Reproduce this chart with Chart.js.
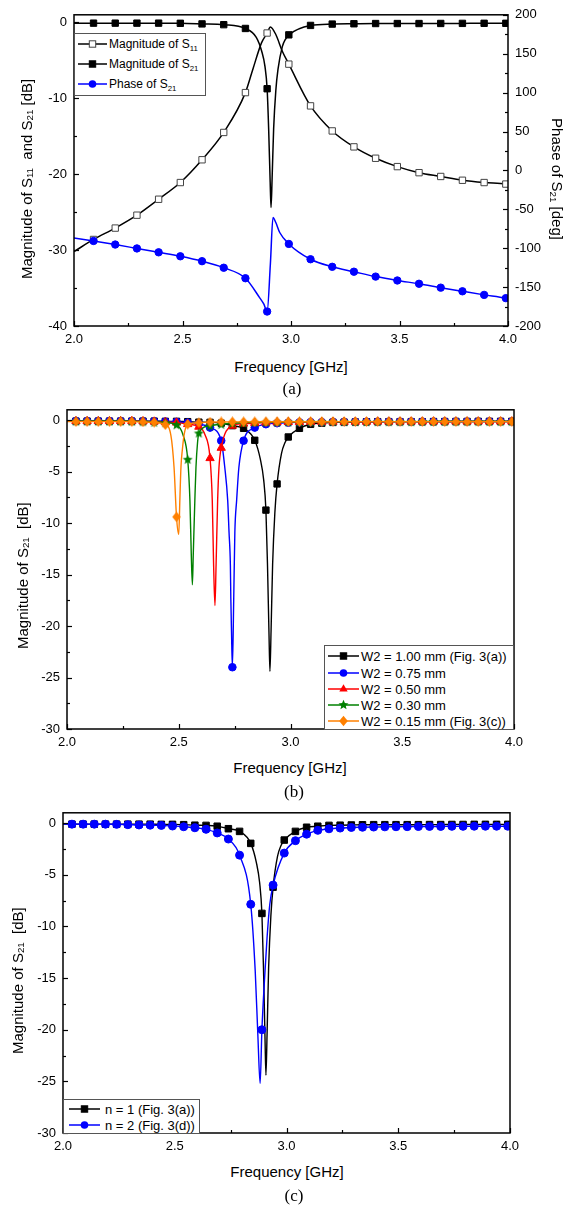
<!DOCTYPE html>
<html>
<head>
<meta charset="utf-8">
<title>S-parameter responses</title>
<script src="https://cdn.jsdelivr.net/npm/chart.js@4.4.1/dist/chart.umd.min.js"></script>
<style>
body { margin: 0; background: #fff; }
#page { position: relative; width: 579px; height: 1205px; overflow: hidden; font-family: "Liberation Sans", Arial, sans-serif; color: #000; }
#page canvas { position: absolute; left: 0; }
.lbl { position: absolute; white-space: nowrap; line-height: 1; transform: translate(-50%, -50%); }
.ttl { font-size: 15px; }
.vert { writing-mode: vertical-rl; }
.vtitle { position: absolute; width: 20px; height: 300px; display: flex; align-items: center; justify-content: center;
          writing-mode: vertical-rl; transform: rotate(180deg); white-space: nowrap; line-height: 1; font-size: 15px; }
.cap { font-family: "Liberation Serif", "Times New Roman", serif; font-size: 17px; }
sub { font-size: 0.65em; vertical-align: -0.4em; line-height: 0; }
.legend { position: absolute; box-sizing: border-box; background: #fff; border: 1px solid #555; }
.legend svg { position: absolute; overflow: visible; }
.legend span { position: absolute; white-space: nowrap; line-height: 1; transform: translateY(-50%); }
</style>
</head>
<body>
<div id="page">
  <canvas id="chartA" width="579" height="350" style="top:0px"></canvas>
  <canvas id="chartB" width="579" height="355" style="top:395px"></canvas>
  <canvas id="chartC" width="579" height="355" style="top:798px"></canvas>

  <div class="vtitle" style="left:16px;top:29px"><span>Magnitude of S<sub>11</sub>&nbsp; and S<sub>21</sub> [dB]</span></div>
  <div class="lbl ttl vert" style="left:557px;top:179px">Phase of S<sub>21</sub> [deg]</div>
  <div class="lbl ttl" style="left:291px;top:366px">Frequency [GHz]</div>
  <div class="lbl cap" style="left:292px;top:388px">(a)</div>

  <div class="vtitle" style="left:12px;top:426px"><span>Magnitude of S<sub>21</sub>&nbsp; [dB]</span></div>
  <div class="lbl ttl" style="left:290px;top:767px">Frequency [GHz]</div>
  <div class="lbl cap" style="left:294px;top:791px">(b)</div>

  <div class="vtitle" style="left:7px;top:831px"><span>Magnitude of S<sub>21</sub>&nbsp; [dB]</span></div>
  <div class="lbl ttl" style="left:287px;top:1171px">Frequency [GHz]</div>
  <div class="lbl cap" style="left:294px;top:1195px">(c)</div>
</div>
<script>
// ---------- (a) marker points, every 0.1 GHz ----------
const freqA = [2.09, 2.19, 2.29, 2.39, 2.49, 2.59, 2.69, 2.79, 2.89, 2.99,
               3.09, 3.19, 3.29, 3.39, 3.49, 3.59, 3.69, 3.79, 3.89, 3.99];
const s11A = [-28.6, -27.1, -25.4, -23.3, -21.1, -18.1, -14.5, -9.25, -1.4, -5.5,
              -11.0, -14.3, -16.4, -17.9, -19.0, -19.8, -20.3, -20.8, -21.1, -21.3];
const s21A = [-0.1, -0.1, -0.1, -0.1, -0.12, -0.2, -0.3, -0.8, -8.74, -1.64,
              -0.4, -0.22, -0.18, -0.15, -0.15, -0.15, -0.14, -0.13, -0.12, -0.12];
const phaseA = [-90.7, -95.3, -100.3, -105.3, -110.4, -116.7, -125.1, -138.6, -181.4, -94.5,
                -114.2, -123.9, -130.2, -136.5, -141.5, -145.7, -150.7, -155.4, -160.0, -164.2];
// extra points of the drawn curves (no marker)
const s11LineF = [2.0, 2.825, 2.864, 2.905, 2.93, 2.96, 4.0];
const s11LineV = [-30.2, -6.1, -2.7, -0.6, -1.6, -3.8, -21.35];
const s21LineF = [2.0, 2.84, 2.865, 2.88, 2.897, 2.904, 2.908, 2.913, 2.92, 2.93, 2.94, 2.96, 2.975, 4.0];
const s21LineV = [-0.1, -1.96, -3.8, -5.8, -14.0, -21.0, -24.4, -20.5, -14.0, -9.0, -6.2, -3.2, -2.2, -0.12];
const phaseLineF = [2.0, 2.856, 2.875, 2.905, 2.917, 2.93, 2.948, 4.0];
const phaseLineV = [-86.9, -163.8, -172, -120, -60.5, -67, -79.8, -165];

// ---------- (b) and (c) marker points, every 0.05 GHz ----------
const freqB = [2.04, 2.09, 2.14, 2.19, 2.24, 2.29, 2.34, 2.39, 2.44, 2.49,
               2.54, 2.59, 2.64, 2.69, 2.74, 2.79, 2.84, 2.89, 2.94, 2.99,
               3.04, 3.09, 3.14, 3.19, 3.24, 3.29, 3.34, 3.39, 3.44, 3.49,
               3.54, 3.59, 3.64, 3.69, 3.74, 3.79, 3.84, 3.89, 3.94, 3.99];
const w100 = [-0.1, -0.1, -0.1, -0.1, -0.1, -0.1, -0.1, -0.1, -0.12, -0.12,
              -0.15, -0.2, -0.22, -0.3, -0.54, -0.8, -1.96, -8.74, -6.2, -1.64,
              -0.8, -0.4, -0.3, -0.22, -0.2, -0.18, -0.16, -0.15, -0.15, -0.15,
              -0.15, -0.15, -0.14, -0.14, -0.13, -0.13, -0.12, -0.12, -0.12, -0.12];
const w075 = [-0.1, -0.1, -0.1, -0.1, -0.1, -0.1, -0.12, -0.12, -0.15, -0.18,
              -0.25, -0.35, -0.73, -2.0, -24.0, -2.0, -0.73, -0.4, -0.3, -0.25,
              -0.22, -0.2, -0.2, -0.18, -0.18, -0.17, -0.16, -0.16, -0.15, -0.15,
              -0.15, -0.15, -0.15, -0.14, -0.14, -0.14, -0.14, -0.14, -0.14, -0.14];
const w050 = [-0.1, -0.1, -0.1, -0.1, -0.1, -0.1, -0.12, -0.15, -0.2, -0.25,
              -0.4, -0.65, -3.7, -2.7, -0.55, -0.35, -0.28, -0.25, -0.22, -0.2,
              -0.2, -0.18, -0.18, -0.17, -0.17, -0.16, -0.16, -0.15, -0.15, -0.15,
              -0.15, -0.15, -0.14, -0.14, -0.14, -0.14, -0.14, -0.14, -0.14, -0.14];
const w030 = [-0.1, -0.1, -0.1, -0.1, -0.1, -0.12, -0.15, -0.2, -0.25, -0.45,
              -3.8, -1.25, -0.55, -0.4, -0.3, -0.25, -0.22, -0.2, -0.2, -0.18,
              -0.17, -0.17, -0.16, -0.16, -0.16, -0.15, -0.15, -0.15, -0.15, -0.15,
              -0.15, -0.14, -0.14, -0.14, -0.14, -0.14, -0.14, -0.14, -0.14, -0.14];
const w015 = [-0.15, -0.15, -0.15, -0.15, -0.15, -0.15, -0.18, -0.22, -0.45, -9.4,
              -0.4, -0.25, -0.2, -0.18, -0.17, -0.17, -0.17, -0.16, -0.16, -0.16,
              -0.16, -0.16, -0.16, -0.15, -0.15, -0.15, -0.15, -0.15, -0.15, -0.15,
              -0.15, -0.15, -0.15, -0.15, -0.15, -0.15, -0.15, -0.15, -0.15, -0.15];
const nTwo = [-0.1, -0.1, -0.1, -0.1, -0.12, -0.15, -0.18, -0.2, -0.22, -0.28,
              -0.35, -0.45, -0.6, -0.95, -1.54, -3.1, -7.86, -20.0, -6.0, -2.9,
              -1.7, -1.07, -0.7, -0.55, -0.48, -0.42, -0.4, -0.38, -0.36, -0.35,
              -0.34, -0.33, -0.32, -0.32, -0.31, -0.31, -0.3, -0.3, -0.3, -0.3];
// extra points of the drawn curves around each notch
const w100LineF = [2.0, 2.865, 2.88, 2.897, 2.904, 2.908, 2.913, 2.92, 2.93, 2.96, 2.975, 4.0];
const w100LineV = [-0.1, -3.8, -5.8, -14.0, -21.0, -24.4, -20.5, -14.0, -9.0, -3.2, -2.2, -0.12];
const w075LineF = [2.0, 2.706, 2.719, 2.725, 2.731, 2.733, 2.736, 2.746, 2.751, 2.759, 2.769, 4.0];
const w075LineV = [-0.1, -4.6, -7.8, -10.9, -14.1, -17.3, -20.5, -17.3, -10.9, -7.8, -4.6, -0.14];
const w050LineF = [2.0, 2.617, 2.65, 2.656, 2.662, 2.667, 2.674, 2.68, 4.0];
const w050LineV = [-0.1, -1.4, -7.8, -14.1, -18.0, -14.1, -7.8, -4.6, -0.14];
const w030LineF = [2.0, 2.52, 2.55, 2.556, 2.561, 2.565, 2.572, 2.577, 2.584, 4.0];
const w030LineV = [-0.1, -1.5, -7.8, -13.0, -16.0, -13.0, -7.8, -4.6, -2.2, -0.14];
const w015LineF = [2.0, 2.465, 2.479, 2.50, 2.505, 2.51, 2.516, 2.525, 4.0];
const w015LineV = [-0.15, -1.5, -4.6, -11.1, -7.7, -4.5, -2.9, -1.3, -0.15];
const nTwoLineF = [2.0, 2.86, 2.872, 2.882, 2.904, 2.913, 2.925, 4.0];
const nTwoLineV = [-0.1, -14.3, -20.6, -25.2, -14.3, -11.1, -7.9, -0.3];

// ---------- ticks and legend texts ----------
const freqTicks = [2.0, 2.5, 3.0, 3.5, 4.0];
const magTicksA = [-40, -30, -20, -10, 0];
const phaseTicks = [-200, -150, -100, -50, 0, 50, 100, 150, 200];
const magTicksBC = [-30, -25, -20, -15, -10, -5, 0];
const legendA = ['Magnitude of S<sub>11</sub>', 'Magnitude of S<sub>21</sub>', 'Phase of S<sub>21</sub>'];
const legendB = ['W2 = 1.00 mm (Fig. 3(a))', 'W2 = 0.75 mm', 'W2 = 0.50 mm', 'W2 = 0.30 mm', 'W2 = 0.15 mm (Fig. 3(c))'];
const legendC = ['n = 1 (Fig. 3(a))', 'n = 2 (Fig. 3(d))'];

const BLUE = '#0000ff', RED = '#ff0000', GREEN = '#008000', ORANGE = '#ff8000', BLACK = '#000000';

// merge marker points and curve points, sorted by frequency
function pts(fm, vm, fl, vl) {
    const out = fm.map((f, i) => ({x: f, y: vm[i], m: true}));
    fl.forEach((f, i) => out.push({x: f, y: vl[i], m: false}));
    return out.sort((a, b) => a.x - b.x);
}

// star and diamond markers drawn as small images
function starPath(cx, cy, R) {
    const p = [];
    for (let i = 0; i < 10; i++) {
        const r = i % 2 ? R * 0.45 : R;
        const a = -Math.PI / 2 + i * Math.PI / 5;
        p.push([cx + r * Math.cos(a), cy + r * Math.sin(a)]);
    }
    return p;
}
function diamondPath(cx, cy, hw, hh) {
    return [[cx, cy - hh], [cx + hw, cy], [cx, cy + hh], [cx - hw, cy]];
}
function shapeCanvas(path, w, h, color) {
    const c = document.createElement('canvas');
    c.width = w; c.height = h;
    const g = c.getContext('2d');
    g.fillStyle = color;
    g.beginPath();
    path.forEach((q, i) => i ? g.lineTo(q[0], q[1]) : g.moveTo(q[0], q[1]));
    g.closePath();
    g.fill();
    return c;
}
const starImg = shapeCanvas(starPath(5.5, 6, 5.2), 11, 11, GREEN);
const diamondImg = shapeCanvas(diamondPath(4.5, 5.5, 4.3, 5.3), 9, 11, ORANGE);

function ds(data, color, style, radius, fill, stroke, order, width, axis) {
    return {
        data: data,
        borderColor: color,
        borderWidth: width,
        cubicInterpolationMode: 'monotone',
        pointStyle: style,
        pointRadius: c => (c.raw && c.raw.m ? radius : 0),
        pointHoverRadius: 0,
        pointBackgroundColor: fill,
        pointBorderColor: stroke,
        pointBorderWidth: 1,
        order: order,
        yAxisID: axis || 'y'
    };
}

const tickFont = {family: 'Liberation Sans', size: 13};
function fixedTicks(list) {
    return s => { s.ticks = list.map(v => ({value: v})); };
}
function xScale(h) {
    return {
        type: 'linear', min: 2, max: 4,
        grid: {display: false, drawTicks: false}, border: {display: false},
        afterBuildTicks: fixedTicks(freqTicks),
        afterFit: s => { s.height = h; },
        ticks: {padding: 6, color: '#000', font: tickFont, maxRotation: 0, autoSkip: false,
                callback: v => v.toFixed(1)}
    };
}
function yScale(pos, min, max, list, w) {
    return {
        type: 'linear', position: pos, min: min, max: max,
        grid: {display: false, drawTicks: false}, border: {display: false},
        afterBuildTicks: fixedTicks(list),
        afterFit: s => { s.width = w; },
        ticks: {padding: 7, color: '#000', font: tickFont, autoSkip: false}
    };
}
function opts(padding, scales) {
    return {
        responsive: false, animation: false, events: [],
        layout: {padding: padding},
        scales: scales,
        plugins: {legend: {display: false}, tooltip: {enabled: false}}
    };
}

// box frame + inward major/minor ticks
const frameTicks = {
    id: 'frameTicks',
    afterDraw(chart) {
        const {ctx, chartArea: a} = chart;
        ctx.save();
        ctx.strokeStyle = '#000';
        ctx.lineWidth = 1.2;
        Object.values(chart.scales).forEach(s => {
            const vals = s.ticks.map(t => t.value);
            const marks = [];
            vals.forEach((v, i) => {
                marks.push([v, 5]);
                if (i < vals.length - 1) marks.push([(v + vals[i + 1]) / 2, 3]);
            });
            marks.forEach(([v, len]) => {
                const p = Math.round(s.getPixelForValue(v)) + 0.5;
                ctx.beginPath();
                if (s.isHorizontal()) { ctx.moveTo(p, a.bottom); ctx.lineTo(p, a.bottom - len); }
                else if (s.position === 'left') { ctx.moveTo(a.left, p); ctx.lineTo(a.left + len, p); }
                else { ctx.moveTo(a.right, p); ctx.lineTo(a.right - len, p); }
                ctx.stroke();
            });
        });
        ctx.lineWidth = 1.5;
        ctx.strokeRect(a.left, a.top, a.right - a.left, a.bottom - a.top);
        ctx.restore();
    }
};

// ---------- (a) ----------
new Chart(document.getElementById('chartA'), {
    type: 'line',
    data: {datasets: [
        ds(pts(freqA, phaseA, phaseLineF, phaseLineV), BLUE, 'circle', 3.7, BLUE, BLUE, 0, 1.5, 'y1'),
        ds(pts(freqA, s21A, s21LineF, s21LineV), BLACK, 'rect', 4.5, BLACK, BLACK, 1, 1.5),
        ds(pts(freqA, s11A, s11LineF, s11LineV), BLACK, 'rect', 4.5, '#ffffff', '#444444', 2, 1.5)
    ]},
    options: opts({top: 8, left: 0, right: 0, bottom: 0}, {
        x: xScale(24),
        y: yScale('left', -40, 1, magTicksA, 74),
        y1: yScale('right', -200, 200, phaseTicks, 71)
    }),
    plugins: [frameTicks]
});

// ---------- (b) ----------
new Chart(document.getElementById('chartB'), {
    type: 'line',
    data: {datasets: [
        ds(pts(freqB, w100, w100LineF, w100LineV), BLACK, 'rect', 4.5, BLACK, BLACK, 4, 1.4),
        ds(pts(freqB, w075, w075LineF, w075LineV), BLUE, 'circle', 3.8, BLUE, BLUE, 3, 1.4),
        ds(pts(freqB, w050, w050LineF, w050LineV), RED, 'triangle', 4.8, RED, RED, 2, 1.4),
        ds(pts(freqB, w030, w030LineF, w030LineV), GREEN, starImg, 4, GREEN, GREEN, 1, 1.4),
        ds(pts(freqB, w015, w015LineF, w015LineV), ORANGE, diamondImg, 4, ORANGE, ORANGE, 0, 1.4)
    ]},
    options: opts({top: 8, left: 0, right: 65, bottom: 0}, {
        x: xScale(21),
        y: yScale('left', -30, 1, magTicksBC, 67)
    }),
    plugins: [frameTicks]
});

// ---------- (c) ----------
new Chart(document.getElementById('chartC'), {
    type: 'line',
    data: {datasets: [
        ds(pts(freqB, w100, w100LineF, w100LineV), BLACK, 'rect', 4.6, BLACK, BLACK, 1, 1.4),
        ds(pts(freqB, nTwo, nTwoLineF, nTwoLineV), BLUE, 'circle', 4.0, BLUE, BLUE, 0, 1.4)
    ]},
    options: opts({top: 8, left: 0, right: 69, bottom: 0}, {
        x: xScale(20),
        y: yScale('left', -30, 1, magTicksBC, 63)
    }),
    plugins: [frameTicks]
});

// ---------- legends (HTML text, svg symbols) ----------
function markerSvg(shape, cx, cy, fill, stroke) {
    const poly = p => '<polygon points="' + p.map(q => q[0].toFixed(2) + ',' + q[1].toFixed(2)).join(' ') + '" fill="' + fill + '"/>';
    switch (shape) {
        case 'rect': return '<rect x="' + (cx - 3.2) + '" y="' + (cy - 3.2) + '" width="6.4" height="6.4" fill="' + fill + '" stroke="' + stroke + '" stroke-width="1"/>';
        case 'circle': return '<circle cx="' + cx + '" cy="' + cy + '" r="3.8" fill="' + fill + '"/>';
        case 'triangle': return poly([[cx, cy - 4.8], [cx + 4.2, cy + 2.4], [cx - 4.2, cy + 2.4]]);
        case 'star': return poly(starPath(cx, cy, 5.2));
        case 'diamond': return poly(diamondPath(cx, cy, 4.3, 5.3));
    }
    return '';
}
function addLegend(box, rows, texts, fs) {
    const el = document.createElement('div');
    el.className = 'legend';
    el.style.left = box.x + 'px'; el.style.top = box.y + 'px';
    el.style.width = box.w + 'px'; el.style.height = box.h + 'px';
    rows.forEach((r, i) => {
        const w = r.x1 - r.x0;
        el.insertAdjacentHTML('beforeend',
            '<svg width="' + w + '" height="12" style="left:' + (r.x0 - box.x - 1) + 'px;top:' + (r.y - box.y - 7) + 'px">' +
            '<line x1="0" y1="6" x2="' + w + '" y2="6" stroke="' + r.color + '" stroke-width="1.5"/>' +
            markerSvg(r.shape, w / 2, 6, r.fill, r.stroke) + '</svg>' +
            '<span style="left:' + (r.tx - box.x - 1) + 'px;top:' + (r.y - box.y - 1) + 'px;font-size:' + fs + 'px">' + texts[i] + '</span>');
    });
    document.getElementById('page').appendChild(el);
}

addLegend({x: 74, y: 33, w: 132, h: 63}, [
    {y: 43.5, x0: 78, x1: 107, tx: 109, color: BLACK, shape: 'rect', fill: '#fff', stroke: '#444'},
    {y: 63.5, x0: 78, x1: 107, tx: 109, color: BLACK, shape: 'rect', fill: BLACK, stroke: BLACK},
    {y: 83.5, x0: 78, x1: 107, tx: 109, color: BLUE, shape: 'circle', fill: BLUE, stroke: BLUE}
], legendA, 12);

addLegend({x: 324, y: 645, w: 190, h: 85}, [
    {y: 656, x0: 328, x1: 359, tx: 361, color: BLACK, shape: 'rect', fill: BLACK, stroke: BLACK},
    {y: 672.5, x0: 328, x1: 359, tx: 361, color: BLUE, shape: 'circle', fill: BLUE, stroke: BLUE},
    {y: 689, x0: 328, x1: 359, tx: 361, color: RED, shape: 'triangle', fill: RED, stroke: RED},
    {y: 705, x0: 328, x1: 359, tx: 361, color: GREEN, shape: 'star', fill: GREEN, stroke: GREEN},
    {y: 721, x0: 328, x1: 359, tx: 361, color: ORANGE, shape: 'diamond', fill: ORANGE, stroke: ORANGE}
], legendB, 13);

addLegend({x: 63, y: 1099, w: 137, h: 35}, [
    {y: 1108.5, x0: 68.5, x1: 99.5, tx: 105, color: BLACK, shape: 'rect', fill: BLACK, stroke: BLACK},
    {y: 1125, x0: 68.5, x1: 99.5, tx: 105, color: BLUE, shape: 'circle', fill: BLUE, stroke: BLUE}
], legendC, 13);
</script>
</body>
</html>
